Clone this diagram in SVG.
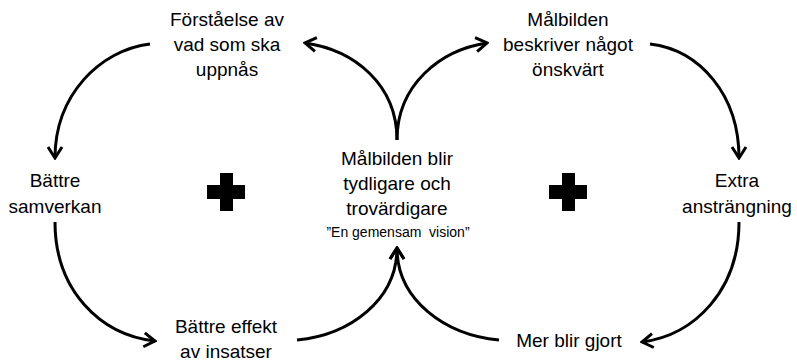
<svg xmlns="http://www.w3.org/2000/svg" width="797" height="364" viewBox="0 0 797 364">
<style>
.t{font-family:"Liberation Sans",Arial,sans-serif;font-size:19px;fill:#000;text-anchor:middle}
.s{font-size:14px}
.c{fill:none;stroke:#000;stroke-width:3}
</style>
<defs>
<marker id="ah" markerUnits="userSpaceOnUse" viewBox="-14 -10 16 20" markerWidth="16" markerHeight="20" refX="0" refY="0" orient="auto">
<path d="M-11,-7 L0,0 L-11,7" fill="none" stroke="#000" stroke-width="3"/>
</marker>
<path id="plus" d="M-19,-7 H-6 V-19 H7 V-7 H19 V7 H7 V19 H-6 V7 H-19 Z" fill="#000"/>
</defs>
<rect width="797" height="364" fill="#fff"/>
<g id="connectors">
<path class="c" d="M150,44 C100,50 55,95 55,158" marker-end="url(#ah)"/>
<path class="c" d="M397,140 C397,85 355,50 305,43" marker-end="url(#ah)"/>
<path class="c" d="M397,140 C397,85 440,50 487,43" marker-end="url(#ah)"/>
<path class="c" d="M650,44 C700,50 739,95 739,158" marker-end="url(#ah)"/>
<path class="c" d="M55,222 C55,290 100,335 155,341" marker-end="url(#ah)"/>
<path class="c" d="M297,340 C350,335 397,300 397,248" marker-end="url(#ah)"/>
<path class="c" d="M739,222 C739,290 695,335 642,342" marker-end="url(#ah)"/>
<path class="c" d="M499,340 C445,335 397,300 397,248" marker-end="url(#ah)"/>
</g>
<g id="plus-left"><use href="#plus" x="226" y="192"/></g>
<g id="plus-right"><use href="#plus" x="568" y="192"/></g>
<g id="n-forstaelse">
<text class="t" x="227" y="26">Förståelse av</text>
<text class="t" x="227" y="51">vad som ska</text>
<text class="t" x="227" y="76">uppnås</text>
</g>
<g id="n-malbilden">
<text class="t" x="568" y="26">Målbilden</text>
<text class="t" x="568" y="51">beskriver något</text>
<text class="t" x="568" y="76">önskvärt</text>
</g>
<g id="n-battre-samverkan">
<text class="t" x="55" y="187">Bättre</text>
<text class="t" x="55" y="213">samverkan</text>
</g>
<g id="n-center">
<text class="t" x="397" y="165">Målbilden blir</text>
<text class="t" x="397" y="190">tydligare och</text>
<text class="t" x="397" y="215">trovärdigare</text>
<text class="t s" x="398" y="237" xml:space="preserve">”En gemensam  vision”</text>
</g>
<g id="n-extra">
<text class="t" x="737" y="187">Extra</text>
<text class="t" x="737" y="213">ansträngning</text>
</g>
<g id="n-battre-effekt">
<text class="t" x="226" y="333">Bättre effekt</text>
<text class="t" x="226" y="358">av insatser</text>
</g>
<g id="n-mer">
<text class="t" x="569" y="347">Mer blir gjort</text>
</g>
</svg>
